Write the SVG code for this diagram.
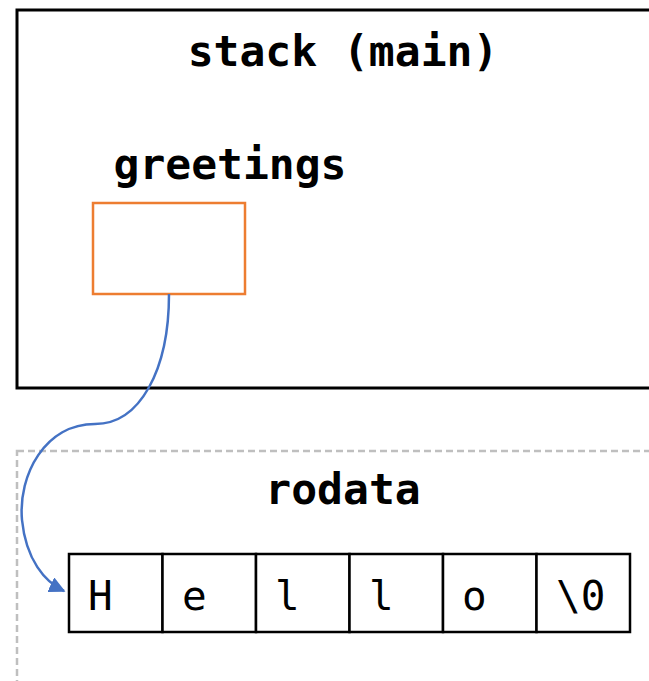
<svg xmlns="http://www.w3.org/2000/svg" width="649" height="681" viewBox="0 0 649 681">
<style>
.title{font-family:"DejaVu Sans Mono","Liberation Mono",monospace;font-weight:bold;font-size:43px;fill:#000}
.cell rect{fill:#fff;stroke:#000;stroke-width:2.5}
.cell text{font-family:"DejaVu Sans Mono","Liberation Mono",monospace;font-size:41px;fill:#000}
</style>
<defs>
<marker id="arr" viewBox="0 0 10 10" refX="9" refY="5" markerWidth="6.5" markerHeight="6.5" orient="auto" markerUnits="strokeWidth">
<path d="M0,0 L10,5 L0,10 z" fill="#4472C4"/>
</marker>
</defs>
<rect width="649" height="681" fill="#fff"/>
<g id="stack">
<rect x="17" y="10" width="650" height="378" fill="#fff" stroke="#000" stroke-width="3"/>
<text class="title" x="343" y="66" text-anchor="middle">stack (main)</text>
</g>
<g id="greetings">
<text class="title" x="230" y="179" text-anchor="middle">greetings</text>
<rect x="93" y="203" width="152" height="91" fill="#fff" stroke="#ED7D31" stroke-width="2.5"/>
</g>
<g id="rodata">
<rect x="17" y="451" width="650" height="260" fill="none" stroke="#BFBFBF" stroke-width="2.5" stroke-dasharray="7,4"/>
<text class="title" x="343" y="504" text-anchor="middle">rodata</text>
</g>
<g id="string" class="cell">
<rect x="69" y="554" width="93.5" height="78"/>
<rect x="162.5" y="554" width="93.5" height="78"/>
<rect x="256" y="554" width="93.5" height="78"/>
<rect x="349.5" y="554" width="93.5" height="78"/>
<rect x="443" y="554" width="93.5" height="78"/>
<rect x="536.5" y="554" width="93.5" height="78"/>
<text x="88" y="610">H</text>
<text x="182" y="610">e</text>
<text x="275" y="610">l</text>
<text x="369" y="610">l</text>
<text x="462" y="610">o</text>
<text x="556" y="610">\0</text>
</g>
<g id="connectors">
<path d="M169,294 C169,370 140,424 95,424 C45,424 18,475 22,520 C26,560 45,582 64,591" fill="none" stroke="#4472C4" stroke-width="2.5" marker-end="url(#arr)"/>
</g>
</svg>
